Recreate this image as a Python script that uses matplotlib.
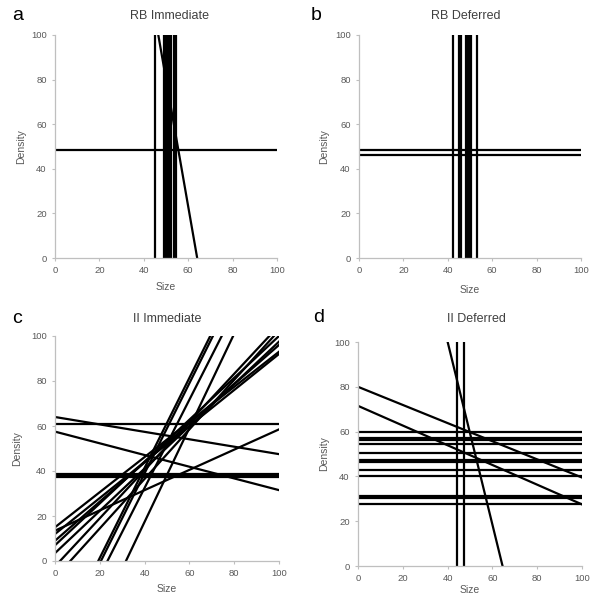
import matplotlib
matplotlib.use("Agg")
import matplotlib.pyplot as plt
import numpy as np

plt.rcParams['font.family'] = ['Liberation Sans', 'DejaVu Sans']

# boundary lines
# vertical lines (size criterion), horizontal lines (density criterion),
# and diagonal lines given as (intercept, slope)
a_vert = [45.0, 49.2, 50.0, 50.8, 51.6, 52.3, 53.8, 54.6]
a_horiz = [48.5]
a_diag = [(365.7, -5.71)]

b_vert = [42.3, 45.0, 46.0, 48.2, 49.0, 49.8, 50.5, 53.0]
b_horiz = [48.5, 46.0]
b_diag = []

c_vert = []
c_horiz = [60.8, 37.3, 38.0, 38.6]
c_diag = [(64.0, -0.165), (57.5, -0.26),
          (15.0, 0.78), (13.5, 0.45), (12.0, 0.80), (9.0, 0.87),
          (7.0, 0.93), (3.5, 0.94), (-2.4, 1.07), (-7.5, 1.10),
          (-38.6, 2.00), (-41.0, 2.00), (-45.9, 1.96), (-66.2, 2.09)]

d_vert = [44.4, 47.3]
d_horiz = [60.0, 57.2, 56.4, 54.5, 50.4, 47.4, 46.4, 43.0, 40.0, 31.1, 30.5, 27.9]
d_diag = [(263.3, -4.08), (80.0, -0.405), (71.5, -0.44)]

ticks = [0, 20, 40, 60, 80, 100]


def draw_panel(ax, title, letter, vert, horiz, diag, title_xy, letter_xy, xlab_y, ylab_x):
    xs = np.array([0, 100])
    for v in vert:
        ax.plot([v, v], [0, 100], color='black', lw=1.6)
    for h in horiz:
        ax.plot([0, 100], [h, h], color='black', lw=1.6)
    for a, b in diag:
        ax.plot(xs, a + b * xs, color='black', lw=1.6)

    ax.set_xlim(0, 100)
    ax.set_ylim(0, 100)
    ax.set_xticks(ticks)
    ax.set_yticks(ticks)
    for side in ['top', 'right']:
        ax.spines[side].set_visible(False)
    for side in ['left', 'bottom']:
        ax.spines[side].set_color('#bfbfbf')
        ax.spines[side].set_linewidth(0.9)
    ax.tick_params(direction='out', length=2, width=0.8, color='#bfbfbf',
                   labelsize=6.8, labelcolor='#595959', pad=4)

    ax.set_xlabel('Size', fontsize=7.5, color='#595959')
    ax.xaxis.set_label_coords(0.5, xlab_y)
    ax.xaxis.label.set_va('center')
    ax.set_ylabel('Density', fontsize=7.5, color='#595959')
    ax.yaxis.set_label_coords(ylab_x, 0.5)
    ax.yaxis.label.set_va('center')

    fig.text(title_xy[0] / 597, 1 - title_xy[1] / 599, title, ha='center',
             va='center', fontsize=9, color='#404040')
    fig.text(letter_xy[0] / 597, 1 - letter_xy[1] / 599, letter, ha='left',
             va='baseline', fontsize=14, color='black')


fig = plt.figure(figsize=(5.97, 5.99), dpi=100)

ax_a = fig.add_axes([55 / 597, 1 - 258 / 599, 222 / 597, 223 / 599])
ax_b = fig.add_axes([359 / 597, 1 - 258 / 599, 222 / 597, 223 / 599])
ax_c = fig.add_axes([55 / 597, 1 - 561 / 599, 224 / 597, 225 / 599])
ax_d = fig.add_axes([358 / 597, 1 - 566 / 599, 224 / 597, 224 / 599])

draw_panel(ax_a, 'RB Immediate', 'a', a_vert, a_horiz, a_diag, (169, 16), (12, 20), -0.130, -0.153)
draw_panel(ax_b, 'RB Deferred', 'b', b_vert, b_horiz, b_diag, (466, 16), (311, 20), -0.143, -0.158)
draw_panel(ax_c, 'II Immediate', 'c', c_vert, c_horiz, c_diag, (167, 319), (12, 323), -0.124, -0.170)
draw_panel(ax_d, 'II Deferred', 'd', d_vert, d_horiz, d_diag, (476, 319), (313, 322), -0.107, -0.152)

fig.savefig('out.png', dpi=100)
